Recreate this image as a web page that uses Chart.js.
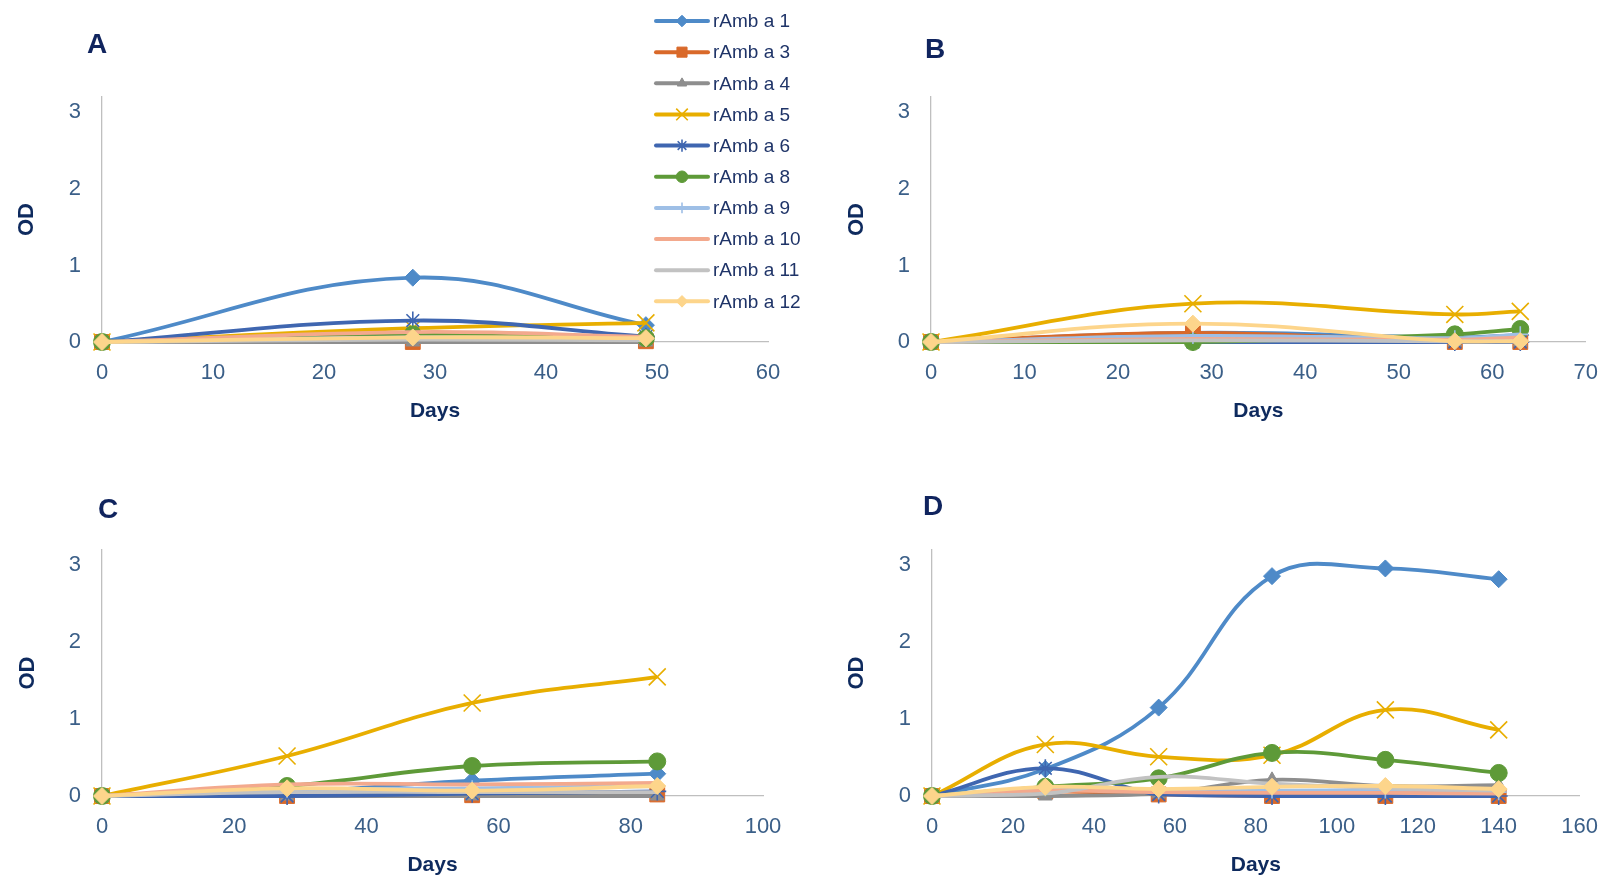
<!DOCTYPE html>
<html>
<head>
<meta charset="utf-8">
<title>OD over days</title>
<script src="https://cdn.jsdelivr.net/npm/chart.js@4.4.1/dist/chart.umd.min.js"></script>
<style>
  html, body { margin: 0; padding: 0; background: #fff; overflow: hidden; }
  #wrap { position: relative; width: 1616px; height: 875px; }
  .panel { position: absolute; }
  .panel canvas { display: block; }
</style>
</head>
<body>
<div id="wrap">
  <div class="panel" style="left:0;top:0"><canvas id="chartA" width="800" height="440"></canvas></div>
  <div class="panel" style="left:800px;top:0"><canvas id="chartB" width="816" height="440"></canvas></div>
  <div class="panel" style="left:0;top:440px"><canvas id="chartC" width="800" height="440"></canvas></div>
  <div class="panel" style="left:800px;top:440px"><canvas id="chartD" width="816" height="440"></canvas></div>
</div>
<script>
// series names (legend order)
const seriesNames = ["rAmb a 1", "rAmb a 3", "rAmb a 4", "rAmb a 5", "rAmb a 6",
  "rAmb a 8", "rAmb a 9", "rAmb a 10", "rAmb a 11", "rAmb a 12"];

// sampling days per panel
const daysA = [0, 28, 49];
const daysB = [0, 28, 56, 63];
const daysC = [0, 28, 56, 84];
const daysD = [0, 28, 56, 84, 112, 140];

// OD values, one row per series, same order as seriesNames
const odA = [
  [0, 0.84, 0.22],
  [0, 0, 0.01],
  [0, 0, 0],
  [0, 0.18, 0.25],
  [0, 0.28, 0.07],
  [0, 0.10, 0.05],
  [0, 0.06, 0.04],
  [0, 0.13, 0.07],
  [0, 0.03, 0.02],
  [0, 0.06, 0.05]
];
const odB = [
  [0, 0.12, 0.06, 0.09],
  [0, 0.12, 0, 0],
  [0, 0, 0, 0],
  [0, 0.50, 0.36, 0.40],
  [0, 0, 0, 0],
  [0, 0, 0.10, 0.17],
  [0, 0.08, 0.05, 0.10],
  [0, 0.04, 0.03, 0.06],
  [0, 0.02, 0.01, 0.01],
  [0, 0.24, 0.01, 0.01]
];
const odC = [
  [0, 0.05, 0.20, 0.29],
  [0, 0, 0.01, 0.02],
  [0, 0, 0, 0],
  [0, 0.52, 1.21, 1.55],
  [0, 0, 0.03, 0.06],
  [0, 0.13, 0.39, 0.45],
  [0, 0.08, 0.10, 0.13],
  [0, 0.15, 0.15, 0.17],
  [0, 0.05, 0.05, 0.05],
  [0, 0.10, 0.07, 0.13]
];
const odD = [
  [0, 0.35, 1.15, 2.86, 2.96, 2.82],
  [0, 0.06, 0.02, 0, 0, 0],
  [0, 0, 0.03, 0.21, 0.13, 0.14],
  [0, 0.67, 0.51, 0.53, 1.12, 0.86],
  [0, 0.36, 0.02, 0, 0, 0],
  [0, 0.12, 0.23, 0.56, 0.47, 0.30],
  [0, 0.10, 0.06, 0.07, 0.07, 0.05],
  [0, 0.07, 0.05, 0.04, 0.04, 0.03],
  [0, 0.03, 0.25, 0.16, 0.10, 0.07],
  [0, 0.12, 0.09, 0.12, 0.13, 0.09]
];

// tick labels
const odTicks = [0, 1, 2, 3];
const dayTicksA = [0, 10, 20, 30, 40, 50, 60];
const dayTicksB = [0, 10, 20, 30, 40, 50, 60, 70];
const dayTicksC = [0, 20, 40, 60, 80, 100];
const dayTicksD = [0, 20, 40, 60, 80, 100, 120, 140, 160];

// line / marker look per series
const seriesStyle = [
  { color: "#4e8ac8", point: "rectRot", r: 8.5, bw: 1 },
  { color: "#d9692a", point: "rect", r: 10.5, bw: 1 },
  { color: "#8e8e8e", point: "triangle", r: 8, bw: 1 },
  { color: "#e8ae00", point: "crossRot", r: 12, bw: 1.6 },
  { color: "#3f66b0", point: "star", r: 9, bw: 1.6 },
  { color: "#5e9a38", point: "circle", r: 8.5, bw: 1 },
  { color: "#9ebfe6", point: "cross", r: 8, bw: 1.6 },
  { color: "#f3a98d", point: false, r: 0, bw: 1 },
  { color: "#c2c2c2", point: false, r: 0, bw: 1 },
  { color: "#fdd58b", point: "rectRot", r: 8.5, bw: 1 }
];

const FONT = "'Liberation Sans', Arial, sans-serif";
const TICK_COLOR = "#3b5f88";
const TITLE_COLOR = "#0e2a5e";
Chart.defaults.font.family = FONT;

// big letter in the corner of each panel
const panelLetter = {
  id: "panelLetter",
  afterDraw(chart, args, opts) {
    const ctx = chart.ctx;
    ctx.save();
    ctx.font = "bold 28px " + FONT;
    ctx.fillStyle = "#10245e";
    ctx.textAlign = "center";
    ctx.textBaseline = "middle";
    ctx.fillText(opts.text, opts.x, opts.y);
    ctx.restore();
  }
};

// the single vertical legend that sits over panel A
const sideLegend = {
  id: "sideLegend",
  afterDraw(chart, args, opts) {
    if (!opts.show) return;
    const ctx = chart.ctx;
    const mid = (opts.x0 + opts.x1) / 2;
    ctx.save();
    chart.data.datasets.forEach(function (ds, i) {
      const y = opts.top + i * opts.step;
      ctx.strokeStyle = ds.borderColor;
      ctx.lineWidth = 4;
      ctx.lineCap = "round";
      ctx.beginPath();
      ctx.moveTo(opts.x0, y);
      ctx.lineTo(opts.x1, y);
      ctx.stroke();
      if (ds.pointStyle && ds.pointRadius > 0 && Chart.helpers && Chart.helpers.drawPoint) {
        ctx.fillStyle = ds.borderColor;
        ctx.lineWidth = ds.pointBorderWidth;
        ctx.lineCap = "butt";
        Chart.helpers.drawPoint(ctx, {
          pointStyle: ds.pointStyle,
          radius: ds.pointRadius * 0.68,
          borderWidth: ds.pointBorderWidth,
          rotation: 0
        }, mid, y);
      }
      ctx.fillStyle = "#1f3468";
      ctx.font = "19px " + FONT;
      ctx.textAlign = "left";
      ctx.textBaseline = "middle";
      ctx.fillText(ds.label, opts.x1 + 5, y + 1);
    });
    ctx.restore();
  }
};

function makeDatasets(days, rows) {
  return rows.map(function (vals, i) {
    const st = seriesStyle[i];
    return {
      label: seriesNames[i],
      data: vals.map(function (v, k) { return { x: days[k], y: v }; }),
      borderColor: st.color,
      backgroundColor: st.color,
      borderWidth: 3.8,
      tension: 0.4,
      fill: false,
      clip: false,
      pointStyle: st.point,
      pointRadius: st.r,
      pointBorderWidth: st.bw,
      pointBackgroundColor: st.color,
      pointBorderColor: st.color,
      order: rows.length - i
    };
  });
}

function makePanel(p) {
  new Chart(document.getElementById(p.id), {
    type: "line",
    data: { datasets: makeDatasets(p.days, p.rows) },
    options: {
      responsive: false,
      animation: false,
      events: [],
      layout: { padding: { left: 0, top: p.top, right: p.right, bottom: 0 } },
      scales: {
        x: {
          type: "linear",
          min: p.dayTicks[0],
          max: p.dayTicks[p.dayTicks.length - 1],
          afterBuildTicks: function (s) { s.ticks = p.dayTicks.map(function (v) { return { value: v }; }); },
          afterFit: function (s) { s.height = p.xHeight; },
          grid: { display: false, drawTicks: false },
          border: { display: true, color: "#bfbfbf", width: 1.3 },
          ticks: { color: TICK_COLOR, font: { size: 22 }, padding: 18, maxRotation: 0 },
          title: {
            display: true, text: "Days", color: TITLE_COLOR,
            font: { size: 21, weight: "bold" }, padding: { top: 0, bottom: p.daysPad }
          }
        },
        y: {
          min: 0,
          max: 3.2,
          afterBuildTicks: function (s) { s.ticks = odTicks.map(function (v) { return { value: v }; }); },
          afterFit: function (s) { s.width = p.yWidth; },
          grid: { display: false, drawTicks: false },
          border: { display: true, color: "#bfbfbf", width: 1.3 },
          ticks: { color: TICK_COLOR, font: { size: 22 }, padding: 21 },
          title: {
            display: true, text: "OD", color: TITLE_COLOR,
            font: { size: 22, weight: "bold" }, padding: { top: p.odPad, bottom: 0 }
          }
        }
      },
      plugins: {
        legend: { display: false },
        tooltip: { enabled: false },
        panelLetter: p.letter,
        sideLegend: p.legend || { show: false }
      }
    },
    plugins: [panelLetter, sideLegend]
  });
}

makePanel({
  id: "chartA", days: daysA, rows: odA, dayTicks: dayTicksA,
  top: 97, right: 32, yWidth: 102, xHeight: 98, daysPad: 16, odPad: 14,
  letter: { text: "A", x: 97, y: 45 },
  legend: { show: true, x0: 656, x1: 708, top: 21, step: 31.15 }
});
makePanel({
  id: "chartB", days: daysB, rows: odB, dayTicks: dayTicksB,
  top: 97, right: 20, yWidth: 131, xHeight: 98, daysPad: 16, odPad: 44,
  letter: { text: "B", x: 135, y: 50 }
});
makePanel({
  id: "chartC", days: daysC, rows: odC, dayTicks: dayTicksC,
  top: 110, right: 37, yWidth: 102, xHeight: 84, daysPad: 2, odPad: 15,
  letter: { text: "C", x: 108, y: 70 }
});
makePanel({
  id: "chartD", days: daysD, rows: odD, dayTicks: dayTicksD,
  top: 110, right: 25, yWidth: 132, xHeight: 84, daysPad: 2, odPad: 44,
  letter: { text: "D", x: 133, y: 67 }
});
</script>
</body>
</html>
